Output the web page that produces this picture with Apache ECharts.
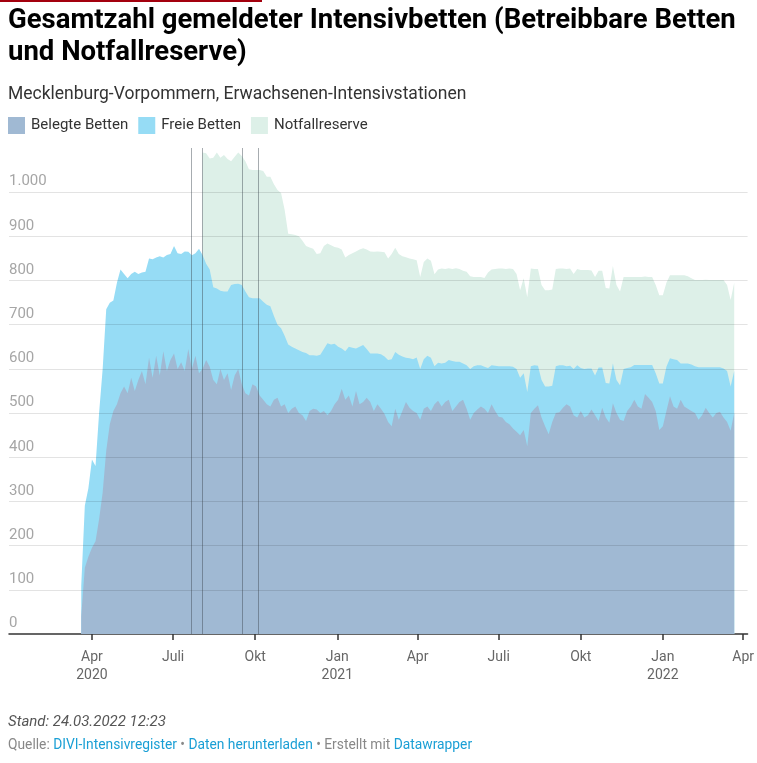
<!DOCTYPE html>
<html>
<head>
<meta charset="utf-8">
<script src="https://cdn.jsdelivr.net/npm/echarts@6/dist/echarts.min.js"></script>
<style>
  html, body { margin: 0; padding: 0; background: #fff; }
  #chart { width: 757px; height: 763px; }
</style>
</head>
<body>
<div id="chart"></div>
<script>
// Werte alle 4 Tage ab 20.03.2020
const startDate = Date.UTC(2020, 2, 20)
const stepDays = 4

const belegt = [
  40, 150, 175, 195, 210, 260, 320, 415, 475, 505,
  520, 545, 560, 545, 580, 550, 575, 595, 565, 625,
  580, 630, 585, 640, 595, 620, 635, 600, 615, 595,
  645, 600, 630, 590, 600, 620, 605, 575, 565, 600,
  575, 590, 552, 585, 600, 565, 545, 540, 565, 560,
  540, 530, 520, 515, 530, 535, 515, 520, 500, 510,
  515, 500, 495, 482, 505, 510, 508, 500, 505, 495,
  505, 520, 530, 555, 530, 540, 515, 550, 520, 525,
  535, 525, 505, 520, 510, 498, 480, 470, 510, 485,
  505, 525, 512, 505, 500, 485, 510, 515, 505, 520,
  528, 515, 525, 530, 505, 515, 525, 530, 510, 485,
  500, 508, 515, 510, 500, 520, 505, 492, 490, 480,
  475, 465, 458, 450, 462, 425, 500, 510, 518, 490,
  470, 452, 480, 500, 502, 512, 520, 515, 495, 490,
  505, 490, 495, 508, 495, 482, 512, 490, 478, 522,
  500, 485, 482, 505, 515, 530, 515, 510, 543, 535,
  525, 505, 462, 470, 505, 538, 515, 510, 530, 515,
  510, 505, 500, 485, 495, 512, 500, 490, 500, 503,
  490, 480, 460, 500
]

const frei = [
  70, 140, 155, 200, 170, 240, 280, 320, 275, 250,
  275, 280, 255, 260, 235, 270, 240, 223, 255, 225,
  268, 222, 270, 212, 263, 240, 243, 262, 245, 271,
  220, 257, 232, 282, 258, 218, 220, 210, 217, 177,
  200, 185, 238, 207, 193, 225, 230, 222, 195, 200,
  220, 222, 225, 227, 190, 165, 177, 155, 155, 140,
  131, 142, 143, 154, 126, 121, 122, 132, 140, 163,
  150, 137, 120, 91, 110, 110, 133, 96, 130, 129,
  110, 110, 130, 115, 123, 130, 140, 152, 128, 147,
  123, 100, 112, 117, 126, 115, 112, 115, 120, 86,
  86, 97, 89, 90, 113, 101, 91, 82, 98, 115,
  106, 100, 93, 95, 102, 88, 102, 114, 116, 126,
  131, 140, 142, 130, 128, 123, 106, 98, 89, 85,
  90, 108, 82, 106, 106, 96, 86, 92, 105, 118,
  97, 110, 106, 93, 90, 121, 91, 78, 89, 90,
  75, 78, 118, 97, 89, 79, 94, 99, 66, 74,
  84, 85, 105, 97, 100, 86, 107, 110, 82, 97,
  102, 105, 106, 119, 109, 92, 104, 114, 104, 101,
  111, 115, 100, 95
]

const reserve = [
  null, null, null, null, null, null, null, null, null, null,
  null, null, null, null, null, null, null, null, null, null,
  null, null, null, null, null, null, null, null, null, null,
  null, null, null, null, 232, 250, 251, 293, 308, 301,
  309, 300, 280, 288, 297, 292, 295, 290, 290, 290,
  290, 296, 290, 293, 298, 305, 306, 285, 251, 255,
  257, 258, 252, 242, 244, 241, 230, 230, 233, 226,
  225, 219, 224, 224, 212, 208, 214, 220, 220, 219,
  225, 231, 230, 231, 232, 236, 230, 238, 236, 228,
  227, 228, 226, 226, 220, 208, 220, 220, 220, 208,
  211, 215, 212, 208, 208, 212, 210, 210, 212, 210,
  202, 200, 200, 201, 216, 217, 219, 221, 221, 220,
  221, 221, 215, 198, 215, 214, 221, 218, 219, 215,
  218, 218, 218, 220, 219, 219, 220, 220, 215, 218,
  222, 224, 223, 222, 223, 219, 219, 215, 215, 221,
  215, 212, 208, 206, 204, 199, 199, 199, 200, 199,
  199, 200, 200, 200, 190, 188, 190, 192, 200, 200,
  198, 195, 195, 197, 197, 198, 197, 197, 197, 197,
  200, 195, 196, 200
]

const dates = belegt.map((_, i) => startDate + i * stepDays * 86400000)

const xTicks = [
  Date.UTC(2020, 3, 1), Date.UTC(2020, 6, 1), Date.UTC(2020, 9, 1),
  Date.UTC(2021, 0, 1), Date.UTC(2021, 3, 1), Date.UTC(2021, 6, 1),
  Date.UTC(2021, 9, 1), Date.UTC(2022, 0, 1), Date.UTC(2022, 3, 1)
]
const xTickLabels = ['Apr\n2020', 'Juli', 'Okt', 'Jan\n2021', 'Apr', 'Juli', 'Okt', 'Jan\n2022', 'Apr']
const yTicks = [100, 200, 300, 400, 500, 600, 700, 800, 900, 1000]
// senkrechte Markierungen im Diagramm
const markerDates = [Date.UTC(2020, 6, 21), Date.UTC(2020, 7, 3), Date.UTC(2020, 8, 16), Date.UTC(2020, 9, 4)]

const seriesNames = ['Belegte Betten', 'Freie Betten', 'Notfallreserve']
const colors = ['#a0b9d3', '#96dcf5', '#ddf0e8']

const font = 'Roboto, "Noto Sans", sans-serif'

// gestapelt: jede Fläche reicht von 0 bis zur Summe der darunterliegenden Werte
const topFrei = belegt.map((v, i) => v + frei[i])
const topReserve = topFrei.map((v, i) => reserve[i] == null ? null : v + reserve[i])

const chart = echarts.init(document.getElementById('chart'))

const makeArea = (name, values, color) => ({
  name: name,
  type: 'line',
  data: values.map((v, i) => [dates[i], v]),
  symbol: 'none',
  showSymbol: false,
  color: color,
  lineStyle: { width: 0 },
  areaStyle: { color: color, opacity: 1 },
  emphasis: { disabled: true },
  silent: true
})

const gridSeries = {
  name: 'raster',
  type: 'line',
  data: [],
  z: 5,
  silent: true,
  markLine: {
    silent: true,
    symbol: ['none', 'none'],
    label: { show: false },
    lineStyle: { type: 'solid', width: 1, color: 'rgba(0,0,0,0.11)' },
    data: yTicks.map(v => ({ yAxis: v })).concat(
      markerDates.map(d => ({ xAxis: d, lineStyle: { color: 'rgba(60,70,80,0.45)', width: 1, type: 'solid' } }))
    )
  }
}

const option = {
  animation: false,
  title: [
    {
      text: 'Gesamtzahl gemeldeter Intensivbetten (Betreibbare Betten\nund Notfallreserve)',
      left: 8,
      top: 5,
      padding: 0,
      textStyle: { fontFamily: font, fontSize: 27.5, fontWeight: 'bold', color: '#000', lineHeight: 32 }
    },
    {
      text: 'Mecklenburg-Vorpommern, Erwachsenen-Intensivstationen',
      left: 8,
      top: 86,
      padding: 0,
      textStyle: { fontFamily: font, fontSize: 17.5, fontWeight: 'normal', color: '#333' }
    }
  ],
  legend: {
    left: 3,
    top: 112,
    icon: 'rect',
    itemWidth: 17,
    itemHeight: 17,
    itemGap: 10,
    selectedMode: false,
    textStyle: { fontFamily: font, fontSize: 15, color: '#333', padding: [0, 0, 0, 1] },
    data: seriesNames.map((n, i) => ({ name: n, itemStyle: { color: colors[i] } }))
  },
  grid: { left: 9, right: 9, top: 148, bottom: 129 },
  xAxis: {
    type: 'value',
    min: Date.UTC(2019, 11, 30),
    max: Date.UTC(2022, 3, 6),
    axisLine: { lineStyle: { color: '#333', width: 1.5 } },
    axisTick: { show: true, length: 6, customValues: xTicks, lineStyle: { color: '#333', width: 1.5 } },
    splitLine: { show: false },
    axisLabel: {
      customValues: xTicks,
      margin: 14,
      fontFamily: font,
      fontSize: 14,
      lineHeight: 18,
      color: '#666',
      formatter: v => {
        const i = xTicks.indexOf(v)
        return i >= 0 ? xTickLabels[i] : ''
      }
    }
  },
  yAxis: {
    type: 'value',
    min: 0,
    max: 1100,
    interval: 100,
    axisLine: { show: false },
    axisTick: { show: false },
    splitLine: { show: false },
    axisLabel: {
      inside: true,
      margin: 0,
      fontFamily: font,
      fontSize: 15,
      color: '#a6a6a6',
      verticalAlign: 'bottom',
      padding: [0, 0, 3, 0],
      formatter: v => v > 1000 ? '' : String(v).replace(/\B(?=(\d{3})+(?!\d))/g, '.')
    }
  },
  // Reihenfolge: größte Fläche zuerst, damit die kleineren darüber liegen
  series: [
    makeArea(seriesNames[2], topReserve, colors[2]),
    makeArea(seriesNames[1], topFrei, colors[1]),
    makeArea(seriesNames[0], belegt, colors[0]),
    gridSeries
  ],
  graphic: [
    { type: 'rect', left: 0, top: 0, shape: { width: 262, height: 2 }, style: { fill: '#a3000e' } },
    {
      type: 'text', left: 8, top: 715,
      style: { text: 'Stand: 24.03.2022 12:23', fontFamily: font, fontSize: 15, fontStyle: 'italic', fill: '#555' }
    },
    {
      type: 'text', left: 8, top: 739,
      style: {
        text: '{g|Quelle: }{b|DIVI-Intensivregister}{g| • }{b|Daten herunterladen}{g| • Erstellt mit }{b|Datawrapper}',
        fontFamily: font,
        fontSize: 13.8,
        rich: {
          g: { fontFamily: font, fontSize: 13.8, fill: '#888', color: '#888' },
          b: { fontFamily: font, fontSize: 13.8, fill: '#1a9fd5', color: '#1a9fd5' }
        }
      }
    }
  ]
}

chart.setOption(option)
</script>
</body>
</html>
